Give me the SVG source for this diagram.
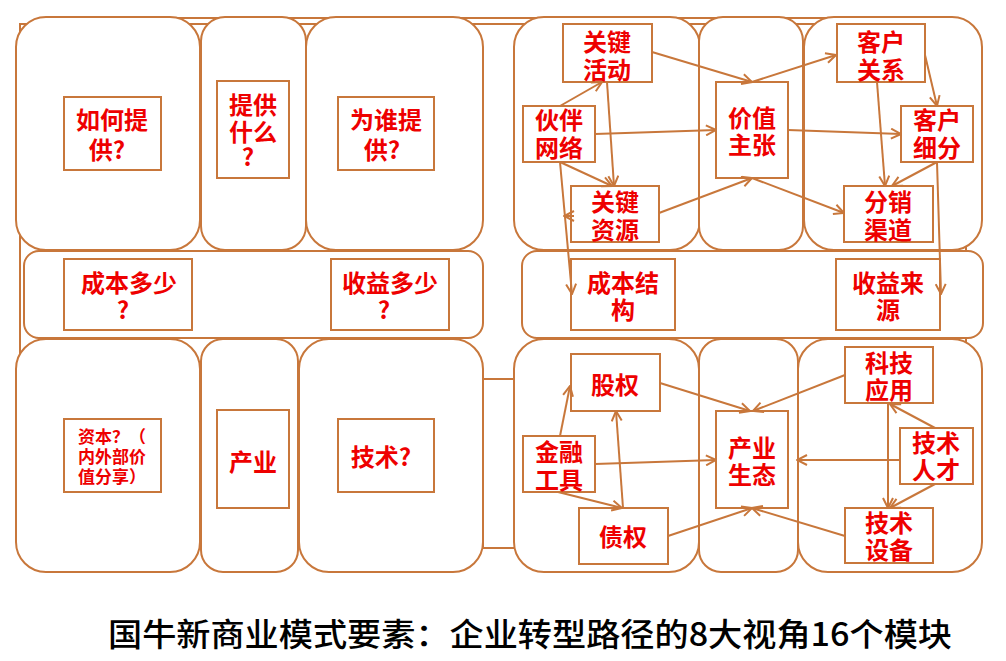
<svg xmlns="http://www.w3.org/2000/svg" width="1006" height="661" viewBox="0 0 1006 661">
<defs>
<marker id="ah" viewBox="0 0 12 12" refX="11" refY="6" markerWidth="12" markerHeight="12" markerUnits="userSpaceOnUse" orient="auto">
<path d="M1,1 L11,6 L1,11" fill="none" stroke="#C8773B" stroke-width="2"/>
</marker>
<style>
.frame{fill:#fff;stroke:#C8773B;stroke-width:2}
.big{fill:#fff;stroke:#C8773B;stroke-width:2}
.box{fill:#fff;stroke:#C8773B;stroke-width:2}
.t{font-family:"Noto Sans CJK SC","Noto Sans",sans-serif;font-weight:bold;fill:#EE0000;font-size:24px;text-anchor:middle}
.s{font-family:"Noto Sans CJK SC","Noto Sans",sans-serif;font-weight:bold;fill:#EE0000;font-size:17px}
.cap{font-family:"Noto Sans CJK SC","Noto Sans",sans-serif;font-weight:500;fill:#000;font-size:32px}
.conn line{stroke:#C8773B;stroke-width:2;marker-end:url(#ah)}
</style>
</defs>
<rect width="1006" height="661" fill="#fff"/>
<g id="background">
<rect class="frame" x="20" y="24" width="946" height="524"/>
<line x1="45" y1="18" x2="955" y2="18" stroke="#C8773B" stroke-width="2"/>
<rect class="frame" x="483" y="379" width="32" height="169"/>
</g>
<g id="panels">
<rect id="pA" class="big" x="16" y="17" width="184" height="233" rx="30"/>
<rect id="pB" class="big" x="201" y="17" width="105" height="233" rx="24"/>
<rect id="pC" class="big" x="306" y="17" width="177" height="233" rx="30"/>
<rect id="pD" class="big" x="514" y="17" width="186" height="233" rx="30"/>
<rect id="pE" class="big" x="699" y="17" width="104" height="233" rx="24"/>
<rect id="pF" class="big" x="804" y="17" width="178" height="233" rx="30"/>
<rect id="pML" class="big" x="24" y="251" width="459" height="87" rx="15"/>
<rect id="pMR" class="big" x="522" y="251" width="461" height="87" rx="15"/>
<rect id="pG" class="big" x="16" y="339" width="184" height="233" rx="30"/>
<rect id="pH" class="big" x="201" y="339" width="97" height="233" rx="22"/>
<rect id="pI" class="big" x="299" y="339" width="184" height="233" rx="30"/>
<rect id="pJ" class="big" x="514" y="339" width="185" height="233" rx="30"/>
<rect id="pK" class="big" x="699" y="339" width="99" height="233" rx="22"/>
<rect id="pL" class="big" x="798" y="339" width="184" height="233" rx="30"/>
</g>
<g id="n-ruhe"><rect class="box" x="64" y="97" width="97" height="73"/><text class="t" x="112" y="129">如何提</text><text class="t" x="107" y="159">供?</text></g>
<g id="n-tigong"><rect class="box" x="217" y="81" width="72" height="97"/><text class="t" x="253" y="114">提供</text><text class="t" x="253" y="141">什么</text><text class="t" x="248" y="166">?</text></g>
<g id="n-weishui"><rect class="box" x="338" y="97" width="96" height="73"/><text class="t" x="386" y="129">为谁提</text><text class="t" x="382" y="159">供?</text></g>
<g id="n-chengben"><rect class="box" x="64" y="259" width="128" height="71"/><text class="t" x="129" y="292">成本多少</text><text class="t" x="123" y="319">?</text></g>
<g id="n-shouyi"><rect class="box" x="331" y="259" width="118" height="71"/><text class="t" x="390" y="292">收益多少</text><text class="t" x="384" y="319">?</text></g>
<g id="n-cbjg"><rect class="box" x="571" y="259" width="104" height="71"/><text class="t" x="623" y="292">成本结</text><text class="t" x="623" y="319">构</text></g>
<g id="n-syly"><rect class="box" x="836" y="259" width="104" height="71"/><text class="t" x="888" y="292">收益来</text><text class="t" x="888" y="319">源</text></g>
<g id="n-ziben"><rect class="box" x="64" y="419" width="97" height="73"/><text class="s" x="78" y="443">资本？（</text><text class="s" x="78" y="463">内外部价</text><text class="s" x="78" y="483">值分享）</text></g>
<g id="n-chanye"><rect class="box" x="217" y="410" width="72" height="98"/><text class="t" x="253" y="471">产业</text></g>
<g id="n-jishu"><rect class="box" x="338" y="419" width="96" height="73"/><text class="t" x="381" y="466">技术?</text></g>
<g id="n-gjhd"><rect class="box" x="563" y="24" width="89" height="58"/><text class="t" x="607" y="51">关键</text><text class="t" x="607" y="79">活动</text></g>
<g id="n-hbwl"><rect class="box" x="523" y="106" width="72" height="56"/><text class="t" x="559" y="129">伙伴</text><text class="t" x="559" y="157">网络</text></g>
<g id="n-gjzy"><rect class="box" x="571" y="186" width="88" height="56"/><text class="t" x="615" y="211">关键</text><text class="t" x="615" y="239">资源</text></g>
<g id="n-jzzz"><rect class="box" x="716" y="82" width="72" height="96"/><text class="t" x="752" y="127">价值</text><text class="t" x="752" y="154">主张</text></g>
<g id="n-khgx"><rect class="box" x="837" y="24" width="88" height="58"/><text class="t" x="881" y="51">客户</text><text class="t" x="881" y="79">关系</text></g>
<g id="n-khxf"><rect class="box" x="901" y="106" width="72" height="56"/><text class="t" x="937" y="129">客户</text><text class="t" x="937" y="157">细分</text></g>
<g id="n-fxqd"><rect class="box" x="844" y="186" width="89" height="56"/><text class="t" x="888" y="211">分销</text><text class="t" x="888" y="239">渠道</text></g>
<g id="n-guquan"><rect class="box" x="571" y="354" width="89" height="57"/><text class="t" x="615" y="394">股权</text></g>
<g id="n-jrgj"><rect class="box" x="523" y="436" width="72" height="56"/><text class="t" x="559" y="461">金融</text><text class="t" x="559" y="489">工具</text></g>
<g id="n-zhaiquan"><rect class="box" x="579" y="508" width="89" height="56"/><text class="t" x="623" y="546">债权</text></g>
<g id="n-cyst"><rect class="box" x="716" y="411" width="72" height="97"/><text class="t" x="752" y="457">产业</text><text class="t" x="752" y="484">生态</text></g>
<g id="n-kjyy"><rect class="box" x="845" y="347" width="88" height="56"/><text class="t" x="889" y="372">科技</text><text class="t" x="889" y="399">应用</text></g>
<g id="n-jsrc"><rect class="box" x="900" y="428" width="73" height="56"/><text class="t" x="936" y="452">技术</text><text class="t" x="936" y="479">人才</text></g>
<g id="n-jssb"><rect class="box" x="845" y="508" width="88" height="55"/><text class="t" x="889" y="532">技术</text><text class="t" x="889" y="559">设备</text></g>
<g id="connectors" class="conn">
<line x1="652" y1="52" x2="752" y2="82"/>
<line x1="752" y1="82" x2="836" y2="55"/>
<line x1="560" y1="106" x2="602" y2="82"/>
<line x1="607" y1="82" x2="614" y2="186"/>
<line x1="595" y1="134" x2="716" y2="130"/>
<line x1="560" y1="162" x2="612" y2="186"/>
<line x1="659" y1="213" x2="752" y2="178"/>
<line x1="752" y1="178" x2="844" y2="213"/>
<line x1="788" y1="130" x2="901" y2="134"/>
<line x1="877" y1="82" x2="885" y2="186"/>
<line x1="925" y1="55" x2="937" y2="106"/>
<line x1="937" y1="162" x2="892" y2="186"/>
<line x1="560" y1="162" x2="572" y2="294"/>
<line x1="574" y1="216" x2="564" y2="216"/>
<line x1="937" y1="162" x2="941" y2="294"/>
<line x1="560" y1="436" x2="570" y2="386"/>
<line x1="623" y1="508" x2="616" y2="411"/>
<line x1="558" y1="492" x2="622" y2="508"/>
<line x1="660" y1="383" x2="750" y2="411"/>
<line x1="845" y1="375" x2="753" y2="411"/>
<line x1="595" y1="464" x2="716" y2="460"/>
<line x1="900" y1="460" x2="797" y2="460"/>
<line x1="668" y1="536" x2="752" y2="508"/>
<line x1="845" y1="536" x2="752" y2="508"/>
<line x1="935" y1="428" x2="890" y2="404"/>
<line x1="888" y1="404" x2="888" y2="508"/>
<line x1="935" y1="484" x2="890" y2="508"/>
</g>
<text class="cap" x="108" y="646" textLength="844" lengthAdjust="spacingAndGlyphs">国牛新商业模式要素：企业转型路径的8大视角16个模块</text>
</svg>
